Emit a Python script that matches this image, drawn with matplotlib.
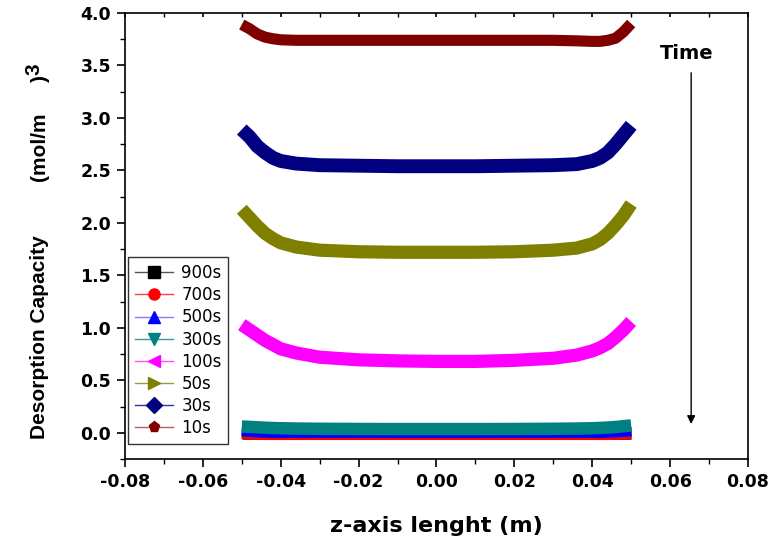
import matplotlib
matplotlib.use('Agg')
import matplotlib.pyplot as plt
from matplotlib.lines import Line2D
from matplotlib.ticker import MultipleLocator

z = [-0.050, -0.048, -0.046, -0.044, -0.042, -0.040, -0.036, -0.030, -0.020, -0.010, 0.000,
     0.010, 0.020, 0.030, 0.036, 0.040, 0.042, 0.044, 0.046, 0.048, 0.050]

labels = ['900s', '700s', '500s', '300s', '100s', '50s', '30s', '10s']

c_900 = [0.00, 0.00, 0.00, 0.00, 0.00, 0.00, 0.00, 0.00, 0.00, 0.00, 0.00,
         0.00, 0.00, 0.00, 0.00, 0.00, 0.00, 0.00, 0.00, 0.00, 0.00]
c_700 = [0.000, -0.005, -0.008, -0.010, -0.010, -0.010, -0.010, -0.010, -0.010, -0.010, -0.010,
         -0.010, -0.010, -0.010, -0.010, -0.010, -0.010, -0.010, -0.008, -0.005, 0.000]
c_500 = [0.025, 0.020, 0.015, 0.012, 0.010, 0.010, 0.010, 0.010, 0.010, 0.010, 0.010,
         0.010, 0.010, 0.010, 0.010, 0.010, 0.010, 0.012, 0.015, 0.020, 0.025]
c_300 = [0.060, 0.056, 0.052, 0.048, 0.045, 0.043, 0.040, 0.038, 0.036, 0.035, 0.035,
         0.035, 0.036, 0.038, 0.040, 0.043, 0.046, 0.050, 0.055, 0.062, 0.070]
c_100 = [1.03, 0.98, 0.93, 0.88, 0.84, 0.80, 0.76, 0.72, 0.695, 0.685, 0.68,
         0.68, 0.69, 0.71, 0.74, 0.78, 0.81, 0.85, 0.91, 0.98, 1.06]
c_50 = [2.13, 2.05, 1.97, 1.90, 1.85, 1.81, 1.77, 1.74, 1.725, 1.72, 1.72,
        1.72, 1.725, 1.74, 1.76, 1.80, 1.84, 1.90, 1.98, 2.07, 2.18]
c_30 = [2.89, 2.82, 2.73, 2.67, 2.62, 2.59, 2.565, 2.55, 2.545, 2.54, 2.54,
        2.54, 2.545, 2.55, 2.56, 2.59, 2.62, 2.67, 2.75, 2.84, 2.93]
c_10 = [3.89, 3.85, 3.80, 3.77, 3.755, 3.745, 3.74, 3.74, 3.74, 3.74, 3.74,
        3.74, 3.74, 3.74, 3.735, 3.73, 3.73, 3.74, 3.76, 3.82, 3.90]

series = [c_900, c_700, c_500, c_300, c_100, c_50, c_30, c_10]
colors = ['#000000', '#ff0000', '#0000ff', '#008080', '#ff00ff', '#808000', '#000080', '#800000']
line_colors = ['#555555', '#ff4040', '#8080ff', '#3a9a9a', '#ff50ff', '#9a9a40', '#3030a0', '#b06060']
markers = ['s', 'o', '^', 'v', '<', '>', 'D', 'p']
widths = [9, 9, 9, 9, 9.5, 9.5, 10, 8]

fig = plt.figure(figsize=(7.69, 5.43), dpi=100)
ax = fig.add_axes([0.1625, 0.1547, 0.8102, 0.8213])

# dense marker trail in the original -> thick band
for y, col, lw in zip(series, colors, widths):
    ax.plot(z, y, color=col, lw=lw, solid_capstyle='butt', solid_joinstyle='round')

ax.set_xlim(-0.08, 0.08)
ax.set_ylim(-0.25, 4.0)
ax.xaxis.set_major_locator(MultipleLocator(0.02))
ax.xaxis.set_minor_locator(MultipleLocator(0.01))
ax.yaxis.set_major_locator(MultipleLocator(0.5))
ax.yaxis.set_minor_locator(MultipleLocator(0.25))
ax.xaxis.set_major_formatter(plt.FuncFormatter(lambda v, p: f'{v:.2f}'))
ax.yaxis.set_major_formatter(plt.FuncFormatter(lambda v, p: f'{v:.1f}'))

for s in ax.spines.values():
    s.set_linewidth(1.2)
ax.tick_params(which='major', direction='out', length=6, width=1.2, labelsize=12.5, pad=4)
ax.tick_params(which='minor', direction='out', length=3.5, width=1.0)
ax.tick_params(axis='x', which='both', top=True)
for lab in ax.get_xticklabels() + ax.get_yticklabels():
    lab.set_fontweight('bold')
ax.xaxis.set_tick_params(which='both', labeltop=False)
# top ticks point inward
for t in ax.xaxis.get_major_ticks() + ax.xaxis.get_minor_ticks():
    t.tick2line.set_marker(3)
    t.tick2line.set_markersize(3)

ax.set_xlabel('z-axis lenght (m)', fontsize=16, fontweight='bold', labelpad=18)

fig.text(0.052, 0.379, 'Desorption Capacity', rotation=90, ha='center', va='center',
         fontsize=15, fontweight='bold', family='Liberation Sans')
fig.text(0.052, 0.73, '(mol/m', rotation=90, ha='center', va='center',
         fontsize=15, fontweight='bold', family='Liberation Sans')
fig.text(0.044, 0.872, '3', rotation=90, ha='center', va='center',
         fontsize=15, fontweight='bold', family='Liberation Sans')
fig.text(0.052, 0.856, ')', rotation=90, ha='center', va='center',
         fontsize=15, fontweight='bold', family='Liberation Sans')

ax.text(0.0643, 3.61, 'Time', ha='center', va='center', fontsize=14, fontweight='bold')
ax.annotate('', xy=(0.0654, 0.057), xytext=(0.0654, 3.457),
            arrowprops=dict(arrowstyle='-|>', color='black', lw=1.0, mutation_scale=12))

handles = [Line2D([0], [0], color=lc, lw=1.0, marker=mk, ms=8, mfc=col, mec=col)
           for lc, col, mk in zip(line_colors, colors, markers)]
leg = ax.legend(handles, labels, loc='lower left', bbox_to_anchor=(0.005, 0.034),
                borderaxespad=0, fontsize=12, frameon=True, fancybox=False,
                handlelength=2.3, labelspacing=0.25, borderpad=0.4, handletextpad=0.5)
leg.get_frame().set_edgecolor('black')
leg.get_frame().set_linewidth(1.0)

fig.savefig('out.png', dpi=100)
